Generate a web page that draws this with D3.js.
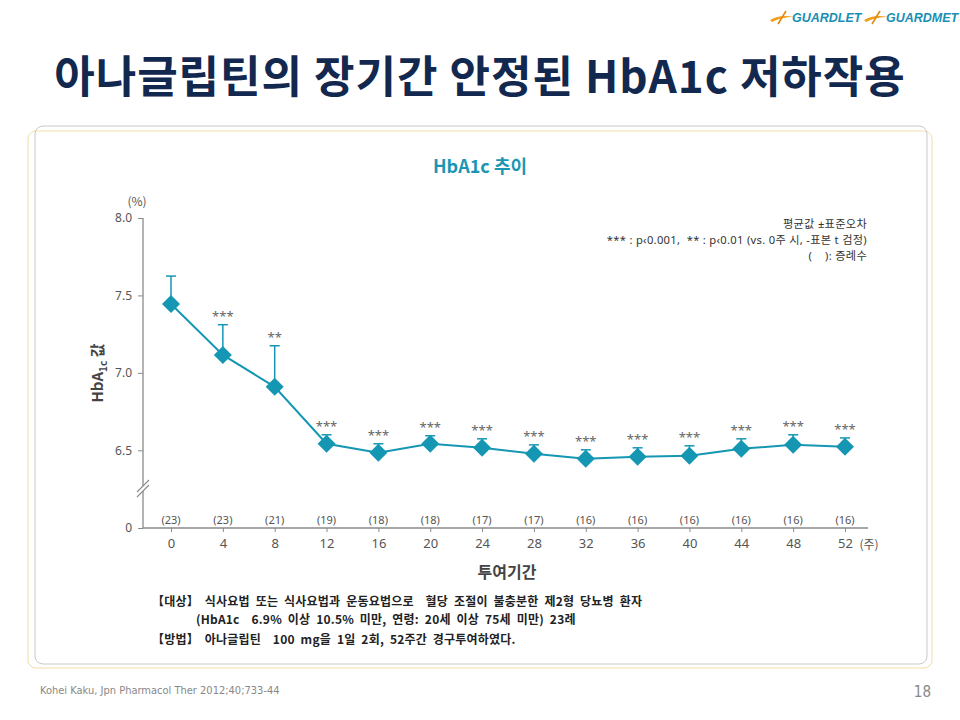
<!DOCTYPE html>
<html>
<head>
<meta charset="utf-8">
<script src="https://cdn.jsdelivr.net/npm/d3@7"></script>
<style>
  body { margin: 0; background: #fff; }
  svg { display: block; font-family: "Noto Sans CJK KR", "Noto Sans", sans-serif; }
  text { white-space: pre; }
</style>
</head>
<body>
<div id="chart"></div>
<script>
// data
const weeks = [0, 4, 8, 12, 16, 20, 24, 28, 32, 36, 40, 44, 48, 52];
const meanValues = [7.445, 7.116, 6.91, 6.542, 6.484, 6.542, 6.516, 6.477, 6.445, 6.458, 6.465, 6.51, 6.535, 6.523];
const seValues = [0.18, 0.195, 0.265, 0.058, 0.058, 0.052, 0.058, 0.058, 0.058, 0.058, 0.064, 0.064, 0.065, 0.057];
const stars = ["", "***", "**", "***", "***", "***", "***", "***", "***", "***", "***", "***", "***", "***"];
const patientCounts = [23, 23, 21, 19, 18, 18, 17, 17, 16, 16, 16, 16, 16, 16];
const yTicks = [0, 6.5, 7.0, 7.5, 8.0];

const width = 960, height = 720;
const teal = "#1597b3";
const grey = "#8a8a8a";
const textGrey = "#555";

const svg = d3.select("#chart").append("svg")
    .attr("width", width)
    .attr("height", height);

// logos
const logo = svg.append("g").attr("transform", "translate(770,0)");
[{ x: 0, label: "GUARDLET" }, { x: 94, label: "GUARDMET" }].forEach(l => {
    logo.append("path")
        .attr("d", `M${l.x},20 Q${l.x + 10},14 ${l.x + 24},17 Q${l.x + 12},17 ${l.x + 2},22 Z`)
        .attr("fill", "#f0a020");
    logo.append("path")
        .attr("d", `M${l.x + 8},24 L${l.x + 16},11`)
        .attr("stroke", "#e08a10").attr("stroke-width", 1.6).attr("fill", "none");
    logo.append("text")
        .attr("x", l.x + 22).attr("y", 22)
        .attr("font-size", 12.5).attr("font-weight", "bold").attr("font-style", "italic")
        .attr("font-family", "'Liberation Sans', Arial, sans-serif")
        .attr("fill", "#1a8fb2")
        .text(l.label);
});

// title
svg.append("text")
    .attr("x", 480).attr("y", 93)
    .attr("text-anchor", "middle")
    .attr("font-size", 44).attr("font-weight", "bold")
    .attr("letter-spacing", 1)
    .attr("fill", "#13284f")
    .text("아나글립틴의 장기간 안정된 HbA1c 저하작용");

// panel borders
svg.append("rect")
    .attr("x", 28).attr("y", 131).attr("width", 904).attr("height", 537)
    .attr("rx", 8).attr("fill", "none").attr("stroke", "#f1deaa").attr("stroke-width", 1);
svg.append("rect")
    .attr("x", 35).attr("y", 126).attr("width", 892).attr("height", 538)
    .attr("rx", 8).attr("fill", "none").attr("stroke", "#c9c9c9").attr("stroke-width", 1);

// subtitle
svg.append("text")
    .attr("x", 480).attr("y", 173)
    .attr("text-anchor", "middle")
    .attr("font-size", 18).attr("font-weight", "bold")
    .attr("fill", "#1a96b4")
    .text("HbA1c 추이");

// scales
const x = d3.scaleLinear().domain([0, 52]).range([171, 845]);
const y = d3.scaleLinear().domain([0, 6.25, 8]).range([528, 489, 218]);
const axisX = 143;

// y axis
const yAxis = svg.append("g")
    .attr("transform", `translate(${axisX},0)`)
    .call(d3.axisLeft(y).tickValues(yTicks).tickSize(5).tickPadding(6)
        .tickFormat(d => d === 0 ? "0" : d3.format(".1f")(d)));
yAxis.select(".domain").remove();
yAxis.selectAll("line").attr("stroke", grey);
yAxis.selectAll("text").attr("font-size", 12).attr("fill", textGrey)
    .attr("font-family", "'Noto Sans', sans-serif");

svg.append("line")
    .attr("x1", axisX).attr("x2", axisX)
    .attr("y1", y(0)).attr("y2", y(8))
    .attr("stroke", grey).attr("stroke-width", 1.3);

// axis break
svg.append("rect").attr("x", axisX - 4).attr("y", 486).attr("width", 8).attr("height", 5).attr("fill", "#fff");
[484, 489].forEach(by => {
    svg.append("line")
        .attr("x1", axisX - 6).attr("y1", by + 8)
        .attr("x2", axisX + 6).attr("y2", by - 4)
        .attr("stroke", grey).attr("stroke-width", 1.1);
});

svg.append("text")
    .attr("x", 137).attr("y", 206)
    .attr("text-anchor", "middle")
    .attr("font-size", 12).attr("fill", textGrey)
    .text("(%)");

// y axis label with subscript
const yLabel = svg.append("text")
    .attr("transform", "translate(103,373) rotate(-90)")
    .attr("text-anchor", "middle")
    .attr("font-size", 15).attr("font-weight", "bold").attr("fill", "#444");
yLabel.append("tspan").text("HbA");
yLabel.append("tspan").attr("font-size", 10).attr("dy", 4).text("1c");
yLabel.append("tspan").attr("dy", -4).text(" 값");

// x axis
const xAxis = svg.append("g")
    .attr("transform", `translate(0,${y(0)})`)
    .call(d3.axisBottom(x).tickValues(weeks).tickSize(4).tickPadding(7));
xAxis.select(".domain").remove();
xAxis.selectAll("line").attr("stroke", grey);
xAxis.selectAll("text").attr("font-size", 13).attr("fill", textGrey)
    .attr("font-family", "'Noto Sans', sans-serif");

svg.append("line")
    .attr("x1", axisX).attr("x2", 868)
    .attr("y1", y(0)).attr("y2", y(0))
    .attr("stroke", grey).attr("stroke-width", 1.3);

svg.append("text")
    .attr("x", 869).attr("y", 549)
    .attr("text-anchor", "middle")
    .attr("font-size", 12).attr("fill", textGrey)
    .text("(주)");

svg.append("text")
    .attr("x", 507).attr("y", 578)
    .attr("text-anchor", "middle")
    .attr("font-size", 16).attr("font-weight", "bold").attr("fill", "#444")
    .text("투여기간");

// patient counts
svg.selectAll(".count")
    .data(weeks)
    .join("text")
    .attr("class", "count")
    .attr("x", d => x(d)).attr("y", 524)
    .attr("text-anchor", "middle")
    .attr("font-size", 11).attr("fill", textGrey)
    .attr("font-family", "'Noto Sans', sans-serif")
    .text((d, i) => `(${patientCounts[i]})`);

// error bars
const points = weeks.map((w, i) => ({ w, v: meanValues[i], top: meanValues[i] + seValues[i], s: stars[i] }));

const err = svg.append("g").attr("stroke", teal).attr("stroke-width", 1.5);
err.selectAll(".stem")
    .data(points)
    .join("line")
    .attr("x1", d => x(d.w)).attr("x2", d => x(d.w))
    .attr("y1", d => y(d.v)).attr("y2", d => y(d.top));
err.selectAll(".cap")
    .data(points)
    .join("line")
    .attr("class", "cap")
    .attr("x1", d => x(d.w) - 5).attr("x2", d => x(d.w) + 5)
    .attr("y1", d => y(d.top)).attr("y2", d => y(d.top));

// line
svg.append("path")
    .datum(points)
    .attr("fill", "none")
    .attr("stroke", teal)
    .attr("stroke-width", 2)
    .attr("d", d3.line().x(d => x(d.w)).y(d => y(d.v)));

// diamonds
svg.selectAll(".marker")
    .data(points)
    .join("path")
    .attr("class", "marker")
    .attr("transform", d => `translate(${x(d.w)},${y(d.v)})`)
    .attr("d", "M0,-9 L9,0 L0,9 L-9,0 Z")
    .attr("fill", teal);

// significance stars
svg.selectAll(".star")
    .data(points.filter(d => d.s))
    .join("text")
    .attr("class", "star")
    .attr("x", d => x(d.w)).attr("y", d => y(d.top) - 4)
    .attr("text-anchor", "middle")
    .attr("font-size", 13).attr("fill", "#666")
    .attr("font-family", "'Noto Sans', sans-serif")
    .text(d => d.s);

// notes top right
const notes = ["평균값 ±표준오차", "*** : p‹0.001,  ** : p‹0.01 (vs. 0주 시, -표본 t 검정)", "(    ): 증례수"];
svg.selectAll(".note")
    .data(notes)
    .join("text")
    .attr("class", "note")
    .attr("x", 867).attr("y", (d, i) => 228 + i * 16)
    .attr("text-anchor", "end")
    .attr("font-size", 11.2).attr("fill", "#333")
    .attr("letter-spacing", 0.3)
    .attr("font-family", "'Noto Sans', 'Noto Sans CJK KR', sans-serif")
    .text(d => d);

// study description
const desc = [
    { x: 152, y: 606, t: "【대상】 식사요법 또는 식사요법과 운동요법으로  혈당 조절이 불충분한 제2형 당뇨병 환자" },
    { x: 196, y: 624, t: "(HbA1c  6.9% 이상 10.5% 미만, 연령: 20세 이상 75세 미만) 23례" },
    { x: 152, y: 644, t: "【방법】 아나글립틴  100 mg을 1일 2회, 52주간 경구투여하였다." }
];
svg.selectAll(".desc")
    .data(desc)
    .join("text")
    .attr("class", "desc")
    .attr("x", d => d.x).attr("y", d => d.y)
    .attr("font-size", 12).attr("font-weight", 600).attr("fill", "#222")
    .attr("word-spacing", 3)
    .attr("letter-spacing", 0.2)
    .text(d => d.t);

// footer
svg.append("text")
    .attr("x", 40).attr("y", 694)
    .attr("font-size", 11).attr("fill", "#888")
    .attr("font-family", "'Liberation Sans Narrow', 'DejaVu Sans Condensed', sans-serif")
    .text("Kohei Kaku, Jpn Pharmacol Ther 2012;40;733-44");
svg.append("text")
    .attr("x", 931).attr("y", 697)
    .attr("text-anchor", "end")
    .attr("font-size", 15).attr("fill", "#888")
    .attr("font-family", "'Liberation Sans Narrow', 'DejaVu Sans Condensed', sans-serif")
    .text("18");
</script>
</body>
</html>
